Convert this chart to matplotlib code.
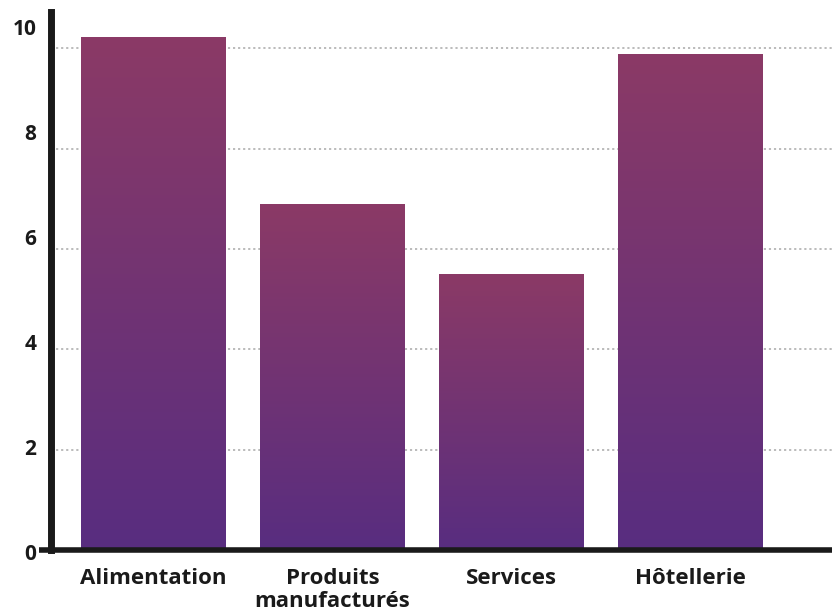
import numpy as np
import matplotlib
matplotlib.use("Agg")
import matplotlib.pyplot as plt
from matplotlib.colors import LinearSegmentedColormap
import matplotlib.transforms as mtransforms

plt.rcParams['font.family'] = ['Open Sans', 'DejaVu Sans']

categories = ["Alimentation", "Produits\nmanufacturés", "Services", "Hôtellerie"]
values = [10.22, 6.89, 5.48, 9.88]
y_ticks = [0, 2, 4, 6, 8, 10]

# degradé de haut (rose-violet) en bas (violet)
cmap = LinearSegmentedColormap.from_list("grad", ["#582d80", "#8b3a66"])

fig = plt.figure(figsize=(8.32, 6.14), dpi=100)
ax = fig.add_axes([51 / 832, 64 / 614, 781 / 832, 538 / 614])

x = np.arange(len(categories))
bars = ax.bar(x, values, width=0.81, color="none", zorder=2)
grad = np.linspace(0, 1, 256).reshape(-1, 1)
for b in bars:
    x0, y0 = b.get_x(), b.get_y()
    w, h = b.get_width(), b.get_height()
    ax.imshow(grad, cmap=cmap, origin="lower", aspect="auto",
              extent=[x0, x0 + w, y0, y0 + h], zorder=2)

ax.set_xlim(-0.573, 3.79)
ax.set_ylim(0, 10.72)

# grille pointillée
for v in y_ticks[1:]:
    ax.axhline(v, color="#b5b5b5", lw=1.3, ls=(0, (1.2, 1.6)), zorder=1)

ax.set_yticks([])
ax.set_xticks(x)
ax.set_xticklabels(categories, fontsize=16, fontweight="bold", color="#1a1a1a",
                   linespacing=1.12)
ax.tick_params(axis="x", length=0, pad=13)

# étiquettes de l'axe y (légèrement décalées comme dans l'original)
trans = mtransforms.blended_transform_factory(ax.transAxes, ax.transData)
for v in y_ticks:
    ax.text(-0.019, v * 1.046 - 0.08, str(v), transform=trans, ha="right",
            va="center", fontsize=15, fontweight="bold", color="#1a1a1a")

for s in ["top", "right"]:
    ax.spines[s].set_visible(False)
ax.spines["left"].set_linewidth(5)
ax.spines["left"].set_color("#1a1a1a")
ax.spines["bottom"].set_linewidth(4)
ax.spines["bottom"].set_color("#1a1a1a")
ax.spines["left"].set_zorder(4)
ax.spines["bottom"].set_zorder(4)
ax.plot([-0.016, 0], [0, 0], transform=ax.transAxes, color="#1a1a1a", lw=4,
        clip_on=False, solid_capstyle="butt", zorder=4)

fig.savefig("out.png", dpi=100)
